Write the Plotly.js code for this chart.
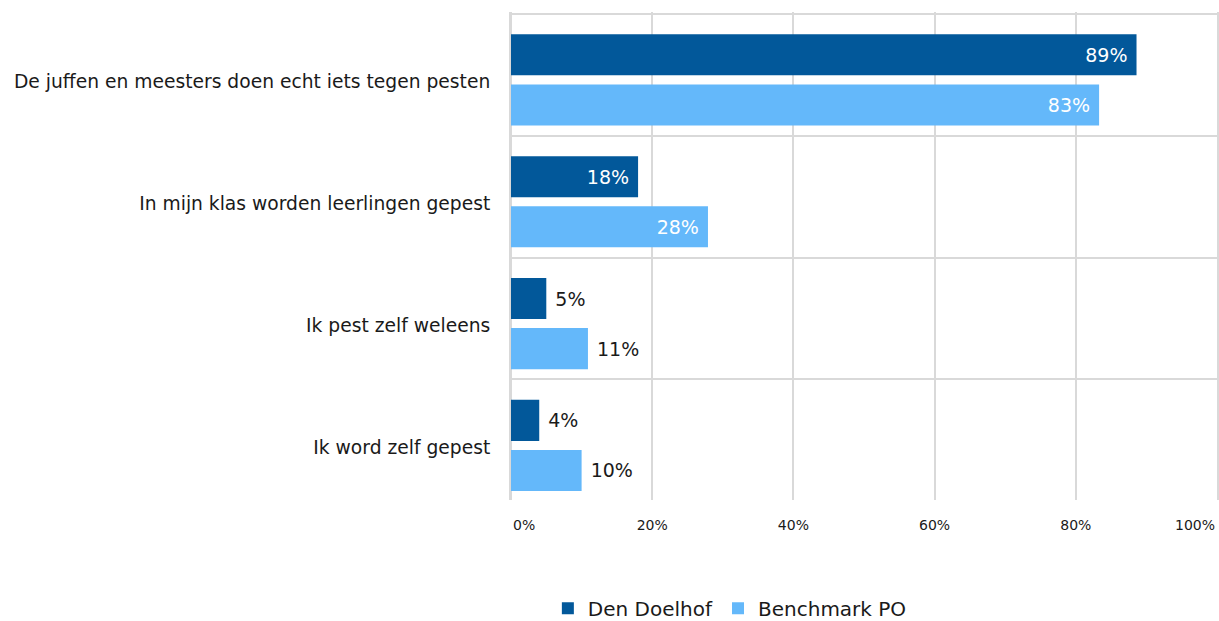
<!DOCTYPE html>
<html>
<head>
<meta charset="utf-8">
<script src="https://cdn.plot.ly/plotly-3.0.1.min.js"></script>
<style>
  html, body { margin: 0; padding: 0; background: white; }
  #chart { width: 1219px; height: 621px; }
</style>
</head>
<body>
<div id="chart"></div>
<script>
// Pesten - Den Doelhof vs benchmark
const categories = [
  'De juffen en meesters doen echt iets tegen pesten',
  'In mijn klas worden leerlingen gepest',
  'Ik pest zelf weleens',
  'Ik word zelf gepest',
];
const doelhof = [0.886, 0.18, 0.05, 0.04];
const benchmark = [0.833, 0.279, 0.109, 0.10];
const xTicks = [0, 0.2, 0.4, 0.6, 0.8, 1];

const COLORS = {
  dark: '#02589A',
  light: '#64B8FA',
  grid: '#D9D9D9',
  text: '#1A1A1A',
};
const FONT = 'DejaVu Sans, Verdana, sans-serif';

function barTrace(name, values, color, offset) {
  const inside = values.map(v => v >= 0.15);
  return {
    type: 'bar',
    orientation: 'h',
    name: name,
    y: categories,
    x: values,
    offset: offset,
    width: 0.337,
    marker: { color: color },
    textposition: inside.map(i => i ? 'inside' : 'outside'),
    texttemplate: inside.map(i => i ? '%{x:.0%}\u00a0' : '\u00a0%{x:.0%}'),
    insidetextanchor: 'end',
    textangle: 0,
    constraintext: 'none',
    insidetextfont: { family: FONT, size: 19, color: 'white' },
    outsidetextfont: { family: FONT, size: 19, color: COLORS.text },
    cliponaxis: false,
    hovertemplate: '%{y}: %{x:.0%}<extra>' + name + '</extra>',
  };
}

const data = [
  barTrace('Den Doelhof', doelhof, COLORS.dark, -0.332),
  barTrace('Benchmark PO', benchmark, COLORS.light, 0.079),
];

const layout = {
  width: 1219,
  height: 621,
  font: { family: FONT, color: COLORS.text },
  paper_bgcolor: 'white',
  plot_bgcolor: 'white',
  margin: { t: 12, r: 2, b: 121, l: 511, autoexpand: false },
  showlegend: true,
  legend: {
    orientation: 'h',
    x: 0.31, xanchor: 'center',
    y: -0.222, yanchor: 'middle',
    font: { family: FONT, size: 20, color: COLORS.text },
    traceorder: 'normal',
  },
  xaxis: {
    range: [0, 1],
    tickvals: xTicks,
    ticktext: xTicks.map((v, i) => (i === 0 || i === xTicks.length - 1) ? '' : Math.round(v * 100) + '%'),
    tickfont: { size: 14, color: COLORS.text },
    tickangle: 0,
    showgrid: true,
    gridcolor: COLORS.grid,
    gridwidth: 2,
    zeroline: true,
    zerolinecolor: COLORS.grid,
    zerolinewidth: 2,
    ticks: '',
    ticklabelstandoff: 15,
    fixedrange: true,
  },
  yaxis: {
    type: 'category',
    range: [3.49, -0.515],
    tickson: 'boundaries',
    showgrid: true,
    gridcolor: COLORS.grid,
    gridwidth: 2,
    showline: true,
    mirror: true,
    linecolor: COLORS.grid,
    linewidth: 2,
    ticks: '',
    tickfont: { size: 18.7, color: COLORS.text },
    ticklabelstandoff: 15,
    ticklabelshift: -7,
    fixedrange: true,
  },
  annotations: [
    { text: '0%', x: 0, xref: 'x', xanchor: 'left', y: 0, yref: 'paper', yanchor: 'top', yshift: -15, showarrow: false, font: { size: 14, color: COLORS.text } },
    { text: '100%', x: 1, xref: 'x', xanchor: 'right', y: 0, yref: 'paper', yanchor: 'top', yshift: -15, showarrow: false, font: { size: 14, color: COLORS.text } },
  ],
};

Plotly.newPlot('chart', data, layout, { displayModeBar: false, responsive: false });
</script>
</body>
</html>
